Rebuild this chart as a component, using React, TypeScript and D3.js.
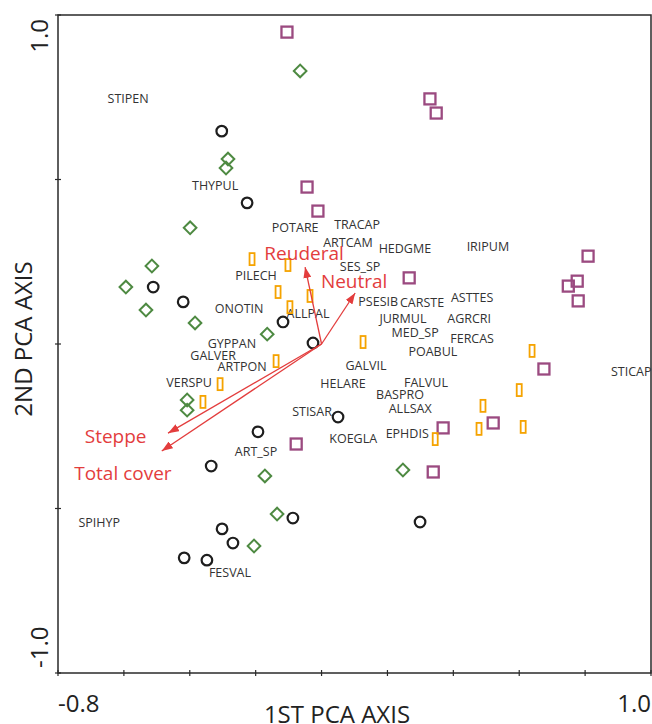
import React from 'react'
import * as d3 from 'd3'

// site scores, grouped by community type
const blackSites: [number, number][] = [
  [-0.303, 0.647], [-0.226, 0.429], [-0.511, 0.173], [-0.420, 0.128], [-0.117, 0.067],
  [-0.026, 0.003], [-0.193, -0.267], [0.050, -0.222], [-0.335, -0.371], [-0.302, -0.562],
  [-0.269, -0.605], [-0.417, -0.650], [-0.348, -0.657], [-0.087, -0.529], [0.299, -0.541]
]

const greenSites: [number, number][] = [
  [-0.065, 0.830], [-0.284, 0.562], [-0.290, 0.535], [-0.399, 0.353], [-0.515, 0.237],
  [-0.594, 0.173], [-0.533, 0.103], [-0.384, 0.064], [-0.165, 0.030], [-0.408, -0.170],
  [-0.408, -0.201], [-0.172, -0.401], [-0.135, -0.517], [-0.205, -0.614], [0.247, -0.383]
]

const purpleSites: [number, number][] = [
  [-0.105, 0.948], [0.329, 0.745], [0.348, 0.702], [-0.044, 0.477], [-0.011, 0.404],
  [0.266, 0.201], [0.809, 0.267], [0.776, 0.191], [0.749, 0.176], [0.779, 0.131],
  [0.675, -0.076], [0.521, -0.240], [0.369, -0.255], [-0.077, -0.304], [0.339, -0.389]
]

const orangeSites: [number, number][] = [
  [-0.211, 0.258], [-0.102, 0.240], [-0.132, 0.158], [-0.035, 0.146], [-0.096, 0.112],
  [0.126, 0.006], [-0.138, -0.052], [-0.308, -0.122], [-0.360, -0.176], [0.639, -0.021],
  [0.600, -0.140], [0.490, -0.188], [0.478, -0.258], [0.612, -0.252], [0.345, -0.289]
]

const SPECIES = [
  { name: 'STIPEN', x: -0.587, y: 0.745 },
  { name: 'THYPUL', x: -0.323, y: 0.483 },
  { name: 'POTARE', x: -0.080, y: 0.353 },
  { name: 'TRACAP', x: 0.108, y: 0.362 },
  { name: 'ARTCAM', x: 0.080, y: 0.310 },
  { name: 'HEDGME', x: 0.253, y: 0.289 },
  { name: 'SES_SP', x: 0.117, y: 0.237 },
  { name: 'IRIPUM', x: 0.505, y: 0.295 },
  { name: 'PILECH', x: -0.199, y: 0.207 },
  { name: 'ONOTIN', x: -0.250, y: 0.109 },
  { name: 'ALLPAL', x: -0.041, y: 0.094 },
  { name: 'PSESIB', x: 0.172, y: 0.128 },
  { name: 'CARSTE', x: 0.305, y: 0.125 },
  { name: 'ASTTES', x: 0.457, y: 0.140 },
  { name: 'JURMUL', x: 0.247, y: 0.079 },
  { name: 'AGRCRI', x: 0.448, y: 0.079 },
  { name: 'MED_SP', x: 0.284, y: 0.036 },
  { name: 'FERCAS', x: 0.457, y: 0.018 },
  { name: 'POABUL', x: 0.338, y: -0.024 },
  { name: 'GYPPAN', x: -0.272, y: 0.003 },
  { name: 'GALVER', x: -0.329, y: -0.036 },
  { name: 'ARTPON', x: -0.241, y: -0.067 },
  { name: 'GALVIL', x: 0.135, y: -0.064 },
  { name: 'VERSPU', x: -0.402, y: -0.116 },
  { name: 'HELARE', x: 0.065, y: -0.119 },
  { name: 'FALVUL', x: 0.317, y: -0.116 },
  { name: 'BASPRO', x: 0.238, y: -0.155 },
  { name: 'ALLSAX', x: 0.269, y: -0.195 },
  { name: 'STICAP', x: 0.940, y: -0.085 },
  { name: 'STISAR', x: -0.029, y: -0.204 },
  { name: 'KOEGLA', x: 0.096, y: -0.286 },
  { name: 'EPHDIS', x: 0.260, y: -0.271 },
  { name: 'ART_SP', x: -0.199, y: -0.328 },
  { name: 'SPIHYP', x: -0.675, y: -0.544 },
  { name: 'FESVAL', x: -0.278, y: -0.696 }
]

// environmental vectors: arrow tip and label position
const VECTORS = [
  { name: 'Reuderal', x: -0.050, y: 0.234, lx: -0.053, ly: 0.277 },
  { name: 'Neutral', x: 0.102, y: 0.155, lx: 0.099, ly: 0.191 },
  { name: 'Steppe', x: -0.466, y: -0.271, lx: -0.625, ly: -0.280 },
  { name: 'Total cover', x: -0.485, y: -0.325, lx: -0.603, ly: -0.392 }
]

const xTicks = d3.range(-0.8, 1.0001, 0.2)
const yTicks = [-1, -0.5, 0, 0.5, 1]

const W = 652
const H = 724
const FONT = '"Open Sans", "Noto Sans", sans-serif'
const RED = '#e33d3d'

const x = d3.scaleLinear().domain([-0.8, 1.0]).range([58, 651])
const y = d3.scaleLinear().domain([-1, 1]).range([673, 15])

export default function App() {
  const [x0, x1] = x.range()
  const [y0, y1] = y.range()
  const diamond = d3.symbol().type(d3.symbolSquare).size(80)()

  return (
    <div>
      <style>{'body{margin:0}'}</style>
      <svg width={W} height={H} style={{ display: 'block' }}>
        <defs>
          <marker id="arrowhead" markerUnits="userSpaceOnUse" markerWidth={12} markerHeight={8}
            refX={11} refY={4} orient="auto">
            <path d="M0,0 L11,4 L0,8 Z" fill={RED} />
          </marker>
        </defs>

        {/* frame */}
        <rect x={x0} y={y1} width={x1 - x0} height={y0 - y1} fill="none" stroke="#2a2a2a" strokeWidth={1.5} />
        {xTicks.map((t, i) => (
          <line key={'xt' + i} x1={x(t)} x2={x(t)} y1={y0 - 3} y2={y0 + 3} stroke="#2a2a2a" strokeWidth={1.2} />
        ))}
        {yTicks.map((t, i) => (
          <line key={'yt' + i} x1={x0 - 3} x2={x0 + 3} y1={y(t)} y2={y(t)} stroke="#2a2a2a" strokeWidth={1.2} />
        ))}

        {/* axis labels */}
        <g fontFamily={FONT} fill="#222">
          <text x={x0} y={712} fontSize={24}>-0.8</text>
          <text x={x1} y={712} fontSize={24} textAnchor="end">1.0</text>
          <text x={337} y={723} fontSize={24} textAnchor="middle">1ST PCA AXIS</text>
          <text transform={`translate(48,${y(1) + 4}) rotate(-90)`} fontSize={24} textAnchor="end">1.0</text>
          <text transform={`translate(48,${y(-1) - 5}) rotate(-90)`} fontSize={24} textAnchor="start">-1.0</text>
          <text transform={`translate(32,339) rotate(-90)`} fontSize={24} textAnchor="middle">2ND PCA AXIS</text>
        </g>

        {/* species labels */}
        <g fontFamily={FONT} fontSize={12.5} fill="#333">
          {SPECIES.map(s => (
            <text key={s.name} x={x(s.x)} y={y(s.y)} textAnchor="middle" dominantBaseline="central">{s.name}</text>
          ))}
        </g>

        {/* sites */}
        {blackSites.map((d, i) => (
          <circle key={'b' + i} cx={x(d[0])} cy={y(d[1])} r={5.3} fill="none" stroke="#1e1e1e" strokeWidth={2.2} />
        ))}
        {greenSites.map((d, i) => (
          <path key={'g' + i} d={diamond!} transform={`translate(${x(d[0])},${y(d[1])}) rotate(45)`}
            fill="none" stroke="#4e8a42" strokeWidth={2} />
        ))}
        {purpleSites.map((d, i) => (
          <rect key={'p' + i} x={x(d[0]) - 5.5} y={y(d[1]) - 5.5} width={11} height={11}
            fill="none" stroke="#9b4a80" strokeWidth={2.3} />
        ))}
        {orangeSites.map((d, i) => (
          <rect key={'o' + i} x={x(d[0]) - 2.5} y={y(d[1]) - 6} width={5} height={12}
            fill="none" stroke="#f5a300" strokeWidth={1.8} />
        ))}

        {/* vectors */}
        {VECTORS.map(v => (
          <line key={v.name} x1={x(0)} y1={y(0)} x2={x(v.x)} y2={y(v.y)} stroke={RED} strokeWidth={1.3}
            markerEnd="url(#arrowhead)" />
        ))}
        <g fontFamily={FONT} fontSize={19} fill={RED}>
          {VECTORS.map(v => (
            <text key={v.name} x={x(v.lx)} y={y(v.ly)} textAnchor="middle" dominantBaseline="central">{v.name}</text>
          ))}
        </g>
      </svg>
    </div>
  )
}
